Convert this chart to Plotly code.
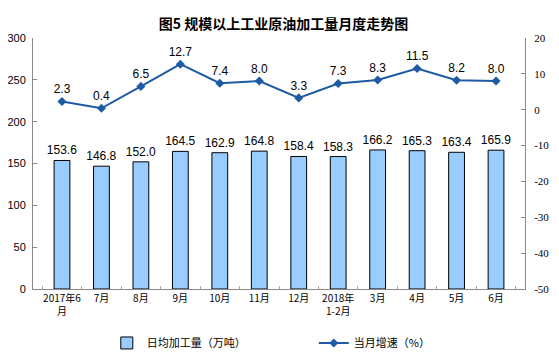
import plotly.graph_objects as go

categories = ["2017年6<br>月", "7月", "8月", "9月", "10月", "11月", "12月",
              "2018年<br>1-2月", "3月", "4月", "5月", "6月"]
daily_output = [153.6, 146.8, 152.0, 164.5, 162.9, 164.8, 158.4, 158.3, 166.2, 165.3, 163.4, 165.9]
growth_rate = [2.3, 0.4, 6.5, 12.7, 7.4, 8.0, 3.3, 7.3, 8.3, 11.5, 8.2, 8.0]

left_ticks = [0, 50, 100, 150, 200, 250, 300]
right_ticks = [-50, -40, -30, -20, -10, 0, 10, 20]
right_tick_labels = ["-50", "-40", "-30", "-20", "-10", "0", "10", "20"]

fig = go.Figure()
fig.add_trace(go.Bar(
    x=categories, y=daily_output, name="日均加工量（万吨）",
    marker=dict(color="#99CCFF", line=dict(color="#000000", width=1)),
    width=0.4,
    text=[f"{v:.1f}" for v in daily_output], textposition="outside",
    constraintext="none",
    textfont=dict(family="Liberation Sans, Arial", size=12, color="#000"),
    cliponaxis=False,
))
fig.add_trace(go.Scatter(
    x=categories, y=growth_rate, name="当月增速（%）", yaxis="y2",
    mode="lines+markers+text",
    line=dict(color="#1F5AA6", width=2),
    marker=dict(symbol="diamond", size=7, color="#1F5AA6"),
    text=[f"{v:.1f}" for v in growth_rate], textposition="top center",
    textfont=dict(family="Liberation Sans, Arial", size=12, color="#000"),
    cliponaxis=False,
))

fig.update_layout(
    width=551, height=350,
    margin=dict(l=25, r=34, t=30, b=69, autoexpand=False),
    paper_bgcolor="white", plot_bgcolor="white",
    title=dict(text="<b>图5 规模以上工业原油加工量月度走势图</b>", x=0.5, xanchor="center",
               y=0.954, yanchor="middle",
               font=dict(family="Noto Sans CJK SC", size=14, color="#000")),
    showlegend=True,
    legend=dict(orientation="h", x=0.15, xanchor="left", y=-0.215, yanchor="middle",
                font=dict(family="Noto Sans CJK SC", size=11, color="#000"),
                entrywidth=162, entrywidthmode="pixels"),
    xaxis=dict(
        showline=True, linecolor="#888", linewidth=1, tickangle=0,
        tickfont=dict(family="Noto Sans CJK SC", size=10, color="#000"),
        ticks="inside", tickson="boundaries", ticklen=3, tickcolor="#aaa",
        showgrid=False,
    ),
    yaxis=dict(
        range=[0, 300], tickvals=left_ticks, showline=True, linecolor="#888", linewidth=1,
        ticks="inside", ticklen=4, tickcolor="#888", ticklabelstandoff=4,
        tickfont=dict(family="Liberation Sans", size=11, color="#000"),
        showgrid=False, zeroline=False,
    ),
    yaxis2=dict(
        range=[-50, 20], tickvals=right_ticks, ticktext=right_tick_labels,
        overlaying="y", side="right",
        showline=True, linecolor="#888", linewidth=1,
        ticks="inside", ticklen=4, tickcolor="#888", ticklabelstandoff=6,
        tickfont=dict(family="Liberation Serif", size=11, color="#000"),
        showgrid=False, zeroline=False,
    ),
)

fig.write_html("out.html")
